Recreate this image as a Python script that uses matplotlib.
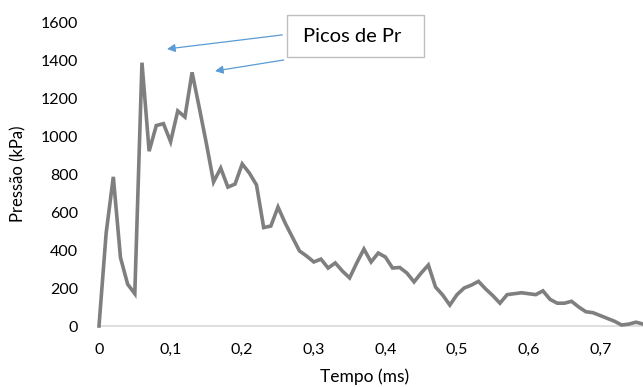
import matplotlib
matplotlib.use("Agg")
import matplotlib.pyplot as plt
from matplotlib.patches import Rectangle

plt.rcParams['font.family'] = ['Lato', 'DejaVu Sans']

tempo = [0.00, 0.01, 0.02, 0.03, 0.04, 0.05, 0.06, 0.07, 0.08, 0.09,
         0.10, 0.11, 0.12, 0.13, 0.14, 0.15, 0.16, 0.17, 0.18, 0.19,
         0.20, 0.21, 0.22, 0.23, 0.24, 0.25, 0.26, 0.27, 0.28, 0.29,
         0.30, 0.31, 0.32, 0.33, 0.34, 0.35, 0.36, 0.37, 0.38, 0.39,
         0.40, 0.41, 0.42, 0.43, 0.44, 0.45, 0.46, 0.47, 0.48, 0.49,
         0.50, 0.51, 0.52, 0.53, 0.54, 0.55, 0.56, 0.57, 0.58, 0.59,
         0.60, 0.61, 0.62, 0.63, 0.64, 0.65, 0.66, 0.67, 0.68, 0.69,
         0.70, 0.71, 0.72, 0.73, 0.74, 0.75, 0.76]
pressao = [0, 490, 785, 360, 220, 170, 1386, 920, 1055, 1065,
           970, 1132, 1100, 1335, 1150, 960, 758, 831, 731, 747,
           853, 805, 742, 518, 526, 626, 542, 468, 395, 368,
           337, 352, 305, 332, 289, 253, 332, 405, 337, 384,
           363, 305, 308, 279, 232, 279, 321, 205, 163, 110,
           165, 200, 215, 235, 195, 160, 120, 165, 170, 175,
           170, 165, 185, 140, 120, 120, 130, 100, 75, 70,
           55, 40, 25, 5, 10, 20, 10]

y_ticks = [0, 200, 400, 600, 800, 1000, 1200, 1400, 1600]
x_ticks = [0, 0.1, 0.2, 0.3, 0.4, 0.5, 0.6, 0.7]
x_labels = ['0', '0,1', '0,2', '0,3', '0,4', '0,5', '0,6', '0,7']

W, H = 643, 387
fig = plt.figure(figsize=(W / 100, H / 100), dpi=100)
ax = fig.add_axes([99 / W, 1 - 326 / H, (643 - 99) / W, (326 - 22) / H])
ax.plot(tempo, pressao, color='#7f7f7f', lw=2.6, solid_joinstyle='miter', clip_on=False, zorder=3)
ax.set_xlim(0, (643 - 99) / 716)
ax.set_ylim(0, 1600)
ax.set_yticks(y_ticks)
ax.set_xticks(x_ticks)
ax.set_xticklabels(x_labels)
for s in ['top', 'right', 'left']:
    ax.spines[s].set_visible(False)
ax.spines['bottom'].set_color('#d9d9d9')
ax.spines['bottom'].set_linewidth(1.2)
ax.tick_params(axis='both', length=0, labelsize=11.5, colors='#000000')
ax.tick_params(axis='x', pad=12)
ax.tick_params(axis='y', pad=15)
ax.set_xlabel('Tempo (ms)', fontsize=12.5)
ax.set_ylabel('Pressão (kPa)', fontsize=12)
ax.xaxis.set_label_coords((365 - 99) / 544, -(377 - 326) / 304)
ax.yaxis.set_label_coords(-(99 - 18) / 544, 0.5)
ax.xaxis.label.set_va('center')
ax.yaxis.label.set_va('center')

arrow_kw = dict(arrowstyle='-|>', color='#5b9bd5', lw=0.9, mutation_scale=12, shrinkA=0, shrinkB=0)
ax.annotate('', xy=(0.095, 1458), xytext=(0.256, 1532), arrowprops=arrow_kw, annotation_clip=False)
ax.annotate('', xy=(0.162, 1342), xytext=(0.258, 1400), arrowprops=arrow_kw, annotation_clip=False)

rect = Rectangle((287 / W, 1 - 57 / H), 137 / W, 42 / H, transform=fig.transFigure,
                 facecolor='white', edgecolor='#bfbfbf', lw=1.0, zorder=5)
fig.patches.append(rect)
fig.text(352 / W, 1 - 37 / H, 'Picos de Pr', ha='center', va='center', fontsize=14.5, zorder=6)

fig.savefig('out.png', dpi=100)
